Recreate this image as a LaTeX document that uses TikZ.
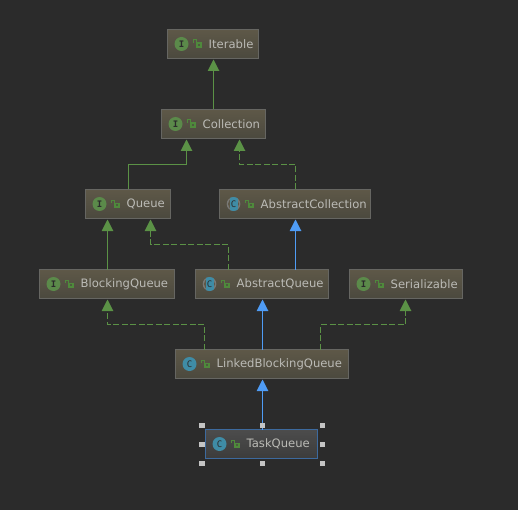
\documentclass[tikz,border=0pt]{standalone}
\usepackage{fontspec}
\setmainfont{DejaVu Sans}
\newfontfamily\iconfont{DejaVu Sans Mono}
\usetikzlibrary{arrows.meta,calc}
\definecolor{bgc}{HTML}{2B2B2B}
\definecolor{boxtop}{HTML}{5E5848}
\definecolor{boxbot}{HTML}{4B493E}
\definecolor{boxline}{HTML}{666662}
\definecolor{txt}{HTML}{BBBBB6}
\definecolor{seltop}{HTML}{4C4C4C}
\definecolor{selbot}{HTML}{3C3C3C}
\definecolor{selline}{HTML}{3D6A9E}
\definecolor{ifacec}{HTML}{5B8A4A}
\definecolor{classc}{HTML}{3F8CA6}
\definecolor{lockc}{HTML}{4F8A3C}
\definecolor{inh}{HTML}{5B9246}
\definecolor{ext}{HTML}{4F9CF5}
\definecolor{handle}{HTML}{C4C4C4}
\tikzset{
  umlbox/.style={draw=boxline,line width=1bp,top color=boxtop,bottom color=boxbot,inner sep=0,outer sep=0,rectangle},
  selbox/.style={draw=selline,line width=1bp,top color=seltop,bottom color=selbot,inner sep=0,outer sep=0,rectangle},
  lbl/.style={text=txt,font=\fontsize{11.6bp}{14bp}\selectfont,anchor=west,inner sep=0},
  icon/.style={circle,minimum size=14bp,inner sep=0,text=bgc,font=\fontsize{9bp}{10bp}\iconfont},
  iface/.style={icon,fill=ifacec,font=\fontsize{9bp}{10bp}\iconfont\bfseries},
  klass/.style={icon,fill=classc},
  handlebox/.style={draw=none,fill=handle,minimum size=5.5bp,inner sep=0,rectangle},
  solidg/.style={draw=inh,line width=1bp,shorten >=1bp,-{Triangle[length=11.5bp,width=11.5bp,fill=inh]}},
  dashg/.style={solidg,dash pattern=on 6bp off 2.5bp},
  solidb/.style={draw=ext,line width=1bp,shorten >=1bp,-{Triangle[length=11.5bp,width=11.5bp,fill=ext]}}
}
% open padlock glyph
\newcommand{\lockicon}[1]{%
  \fill[lockc] ($(#1)+(-2,-1.5)$) rectangle ($(#1)+(4.7,4)$);
  \draw[lockc,line width=1bp] ($(#1)+(-1,-1.5)$) -- ($(#1)+(-1,-4)$) -- ($(#1)+(-3.8,-4)$) -- ($(#1)+(-3.8,-1)$);
  \fill[boxbot!70!lockc] ($(#1)+(0.3,0.3)$) rectangle ($(#1)+(2.3,2)$);
}
% style, left, right, name, top, icon style, letter, text
\newcommand{\umlnode}[8][umlbox]{%
  \node[#1,minimum width=#3bp-#2bp-1bp,minimum height=29bp,anchor=north west] (#4) at (#2.5,#5.5) {};
  \node[#6] (#4i) at ($(#4.west)+(14,0)$) {#7};
  \coordinate (#4l) at ($(#4.west)+(30,0)$);
  \lockicon{#4l}
  \node[lbl] (#4t) at ($(#4.west)+(41,0)$) {#8};
}
% abstract class icon
\newcommand{\absicon}[1]{%
  \fill[gray!85!boxtop] (#1) circle (6.8bp);
  \fill[boxtop] (#1) circle (5.6bp);
  \begin{scope}
    \clip (#1) circle (7bp);
    \fill[classc] ($(#1)+(-4,-8)$) rectangle ($(#1)+(4,8)$);
  \end{scope}
  \node[text=bgc,font=\fontsize{9bp}{10bp}\iconfont,inner sep=0] at (#1) {C};
}
\begin{document}
\begin{tikzpicture}[x=1bp,y=-1bp]
\fill[bgc] (0,0) rectangle (518,510);
\useasboundingbox (0,0) rectangle (518,510);
\umlnode{167}{259}{iter}{29}{iface}{I}{Iterable}
\umlnode{161}{266}{coll}{109}{iface}{I}{Collection}
\umlnode{85}{171}{queue}{189}{iface}{I}{Queue}
\umlnode{219}{371}{acoll}{189}{icon}{}{AbstractCollection}
\absicon{acolli}
\umlnode{39}{175}{bq}{269}{iface}{I}{BlockingQueue}
\umlnode{195}{329}{aq}{269}{icon}{}{AbstractQueue}
\absicon{aqi}
\umlnode{349}{463}{ser}{269}{iface}{I}{Serializable}
\umlnode{175}{349}{lbq}{349}{klass}{C}{LinkedBlockingQueue}
\umlnode[selbox]{205}{318}{tq}{429}{klass}{C}{TaskQueue}
% connectors
\draw[solidg] (coll.north) -- (coll.north |- iter.south);
\draw[solidg] ([xshift=.5bp]queue.north) -- ++(0,-25) -| ([xshift=-27bp]coll.south);
\draw[dashg] ([xshift=.5bp]acoll.north) -- ++(0,-25) -| ([xshift=26bp]coll.south);
\draw[solidg] ([xshift=.5bp]bq.north) -- ([xshift=.5bp]bq.north |- queue.south);
\draw[dashg] ([xshift=-33.5bp]aq.north) -- ++(0,-25) -| ([xshift=22.5bp]queue.south);
\draw[solidb] ([xshift=.5bp]acoll.south |- aq.north) -- ([xshift=.5bp]acoll.south);
\draw[solidb] ([xshift=.5bp]lbq.north) -- ([xshift=.5bp]lbq.north |- aq.south);
\draw[dashg] ([xshift=-57.5bp]lbq.north) -- ++(0,-25) -| ([xshift=.5bp]bq.south);
\draw[dashg] ([xshift=58.5bp]lbq.north) -- ++(0,-25) -| ([xshift=-.5bp]ser.south);
\draw[solidb] ([xshift=.5bp]lbq.south |- tq.north) -- ([xshift=.5bp]lbq.south);
% selection handles
\node[handlebox] (h1) at (202,425.5) {};
\node[handlebox] (h2) at (262.5,425.5) {};
\node[handlebox] (h3) at (322.5,425.5) {};
\node[handlebox] (h4) at (202,444.5) {};
\node[handlebox] (h5) at (322.5,444.5) {};
\node[handlebox] (h6) at (202,463.5) {};
\node[handlebox] (h7) at (262.5,463.5) {};
\node[handlebox] (h8) at (322.5,463.5) {};
\end{tikzpicture}
\end{document}
